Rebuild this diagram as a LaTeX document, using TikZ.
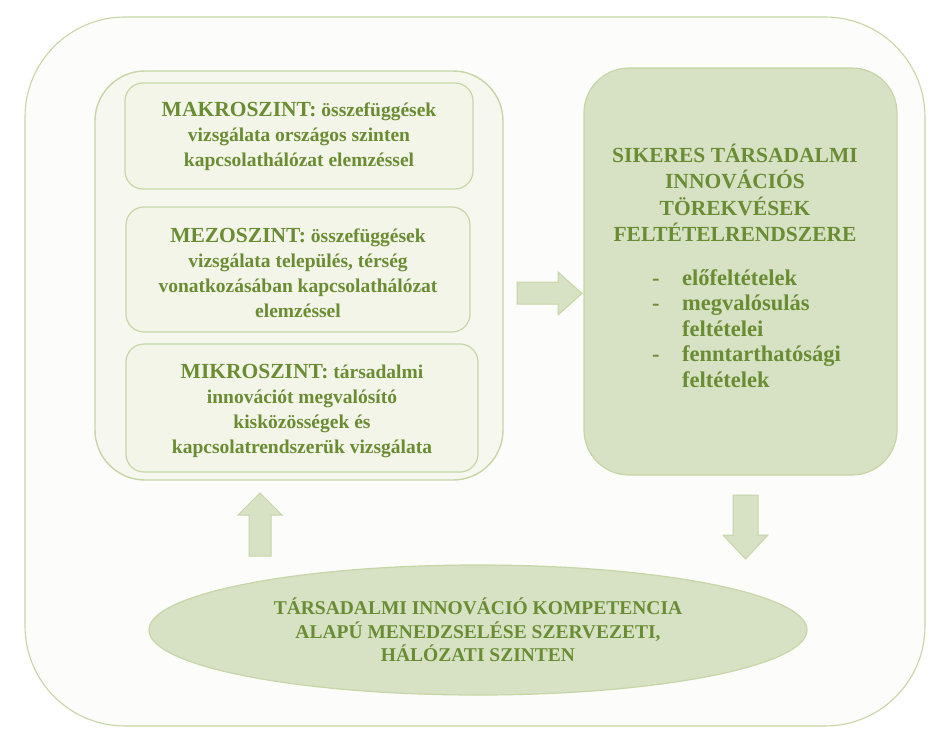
\documentclass[tikz,border=0pt]{standalone}
\usepackage{fontspec}
\setmainfont{Liberation Serif}
\usetikzlibrary{shapes.geometric}
\definecolor{txt}{HTML}{6A8C33}
\definecolor{lineg}{HTML}{C6D6A6}
\definecolor{fillg}{HTML}{D7E1C3}
\definecolor{pale}{HTML}{F6F7EE}
\definecolor{palebox}{HTML}{F3F5E8}
\definecolor{frame}{HTML}{FCFCFA}
\tikzset{
  outerbox/.style={draw=lineg, line width=1.1pt, fill=frame, rounded corners=100pt, inner sep=0pt},
  leftbox/.style={draw=lineg, line width=1.4pt, fill=pale, rounded corners=50pt, inner sep=0pt},
  levelbox/.style={draw=lineg, line width=1.2pt, fill=palebox, rounded corners=18pt, inner sep=0pt,
    text=txt, align=center, font=\bfseries\fontsize{19.5}{25}\selectfont},
  goalbox/.style={draw=lineg, line width=1.2pt, fill=fillg, rounded corners=45pt, inner sep=0pt},
  blockarrow/.style={draw=lineg, line width=1pt, fill=fillg},
  ovalbox/.style={ellipse, draw=lineg, line width=1.2pt, fill=fillg, inner sep=0pt,
    text=txt, align=center, font=\bfseries\fontsize{19.5}{23.5}\selectfont},
}
\newcommand{\lvlhead}[1]{{\fontsize{21.5}{25}\selectfont #1}}
\begin{document}
\begin{tikzpicture}[x=1pt,y=-1pt]
\useasboundingbox (0,0) rectangle (934,728);
\fill[white] (0,0) rectangle (934,728);
% outer frame
\node[outerbox, minimum width=900pt, minimum height=709pt] (frame) at (475,371.5) {};
% left container
\node[leftbox, minimum width=408pt, minimum height=409pt] (levels) at (299,275.5) {};
% level boxes
\node[levelbox, minimum width=348pt, minimum height=106pt] (makro) at (299,136)
  {\lvlhead{MAKROSZINT:} összefüggések\\vizsgálata országos szinten\\kapcsolathálózat elemzéssel};
\node[levelbox, minimum width=344pt, minimum height=125pt] (mezo) at (298,269.5) {};
\node[text=txt, align=center, inner sep=0pt, font=\bfseries\fontsize{19.5}{25}\selectfont]
  (mezotext) at (298,273) {\lvlhead{MEZOSZINT:} összefüggések\\vizsgálata település, térség\\vonatkozásában kapcsolathálózat\\elemzéssel};
\node[levelbox, minimum width=352pt, minimum height=128pt] (mikro) at (302,408) {};
\node[text=txt, align=center, inner sep=0pt, font=\bfseries\fontsize{19.5}{25}\selectfont]
  (mikrotext) at (302,411) {\lvlhead{MIKROSZINT:} társadalmi\\innovációt megvalósító\\kisközösségek és\\kapcsolatrendszerük vizsgálata};
% right goal box
\node[goalbox, minimum width=313pt, minimum height=407pt] (goal) at (740.5,271.5) {};
\node[text=txt, align=center, inner sep=0pt, font=\bfseries\fontsize{21.5}{26.5}\selectfont]
  (goaltitle) at (735,193) {SIKERES TÁRSADALMI\\INNOVÁCIÓS\\TÖREKVÉSEK\\FELTÉTELRENDSZERE};
\node[text=txt, anchor=west, inner sep=0pt, font=\bfseries\fontsize{22.5}{25.5}\selectfont]
  (goallist) at (652,331) {\begin{tabular}{@{}p{30pt}@{}l@{}}
  - & előfeltételek\\
  - & megvalósulás\\
    & feltételei\\
  - & fenntarthatósági\\
    & feltételek
  \end{tabular}};
% ellipse
\node[ovalbox, minimum width=658pt, minimum height=130pt] (oval) at (478,630)
  {TÁRSADALMI INNOVÁCIÓ KOMPETENCIA\\ALAPÚ MENEDZSELÉSE SZERVEZETI,\\HÁLÓZATI SZINTEN};
% block arrows
\draw[blockarrow] (517,282) -- (558,282) -- (558,272) -- (582,293.5) -- (558,315) -- (558,304) -- (517,304) -- cycle;
\draw[blockarrow] (249,556) -- (249,515) -- (238,515) -- (260,493) -- (282,515) -- (271,515) -- (271,556) -- cycle;
\draw[blockarrow] (733,495) -- (758,495) -- (758,535) -- (768,535) -- (745.5,559) -- (723,535) -- (733,535) -- cycle;
\end{tikzpicture}
\end{document}
